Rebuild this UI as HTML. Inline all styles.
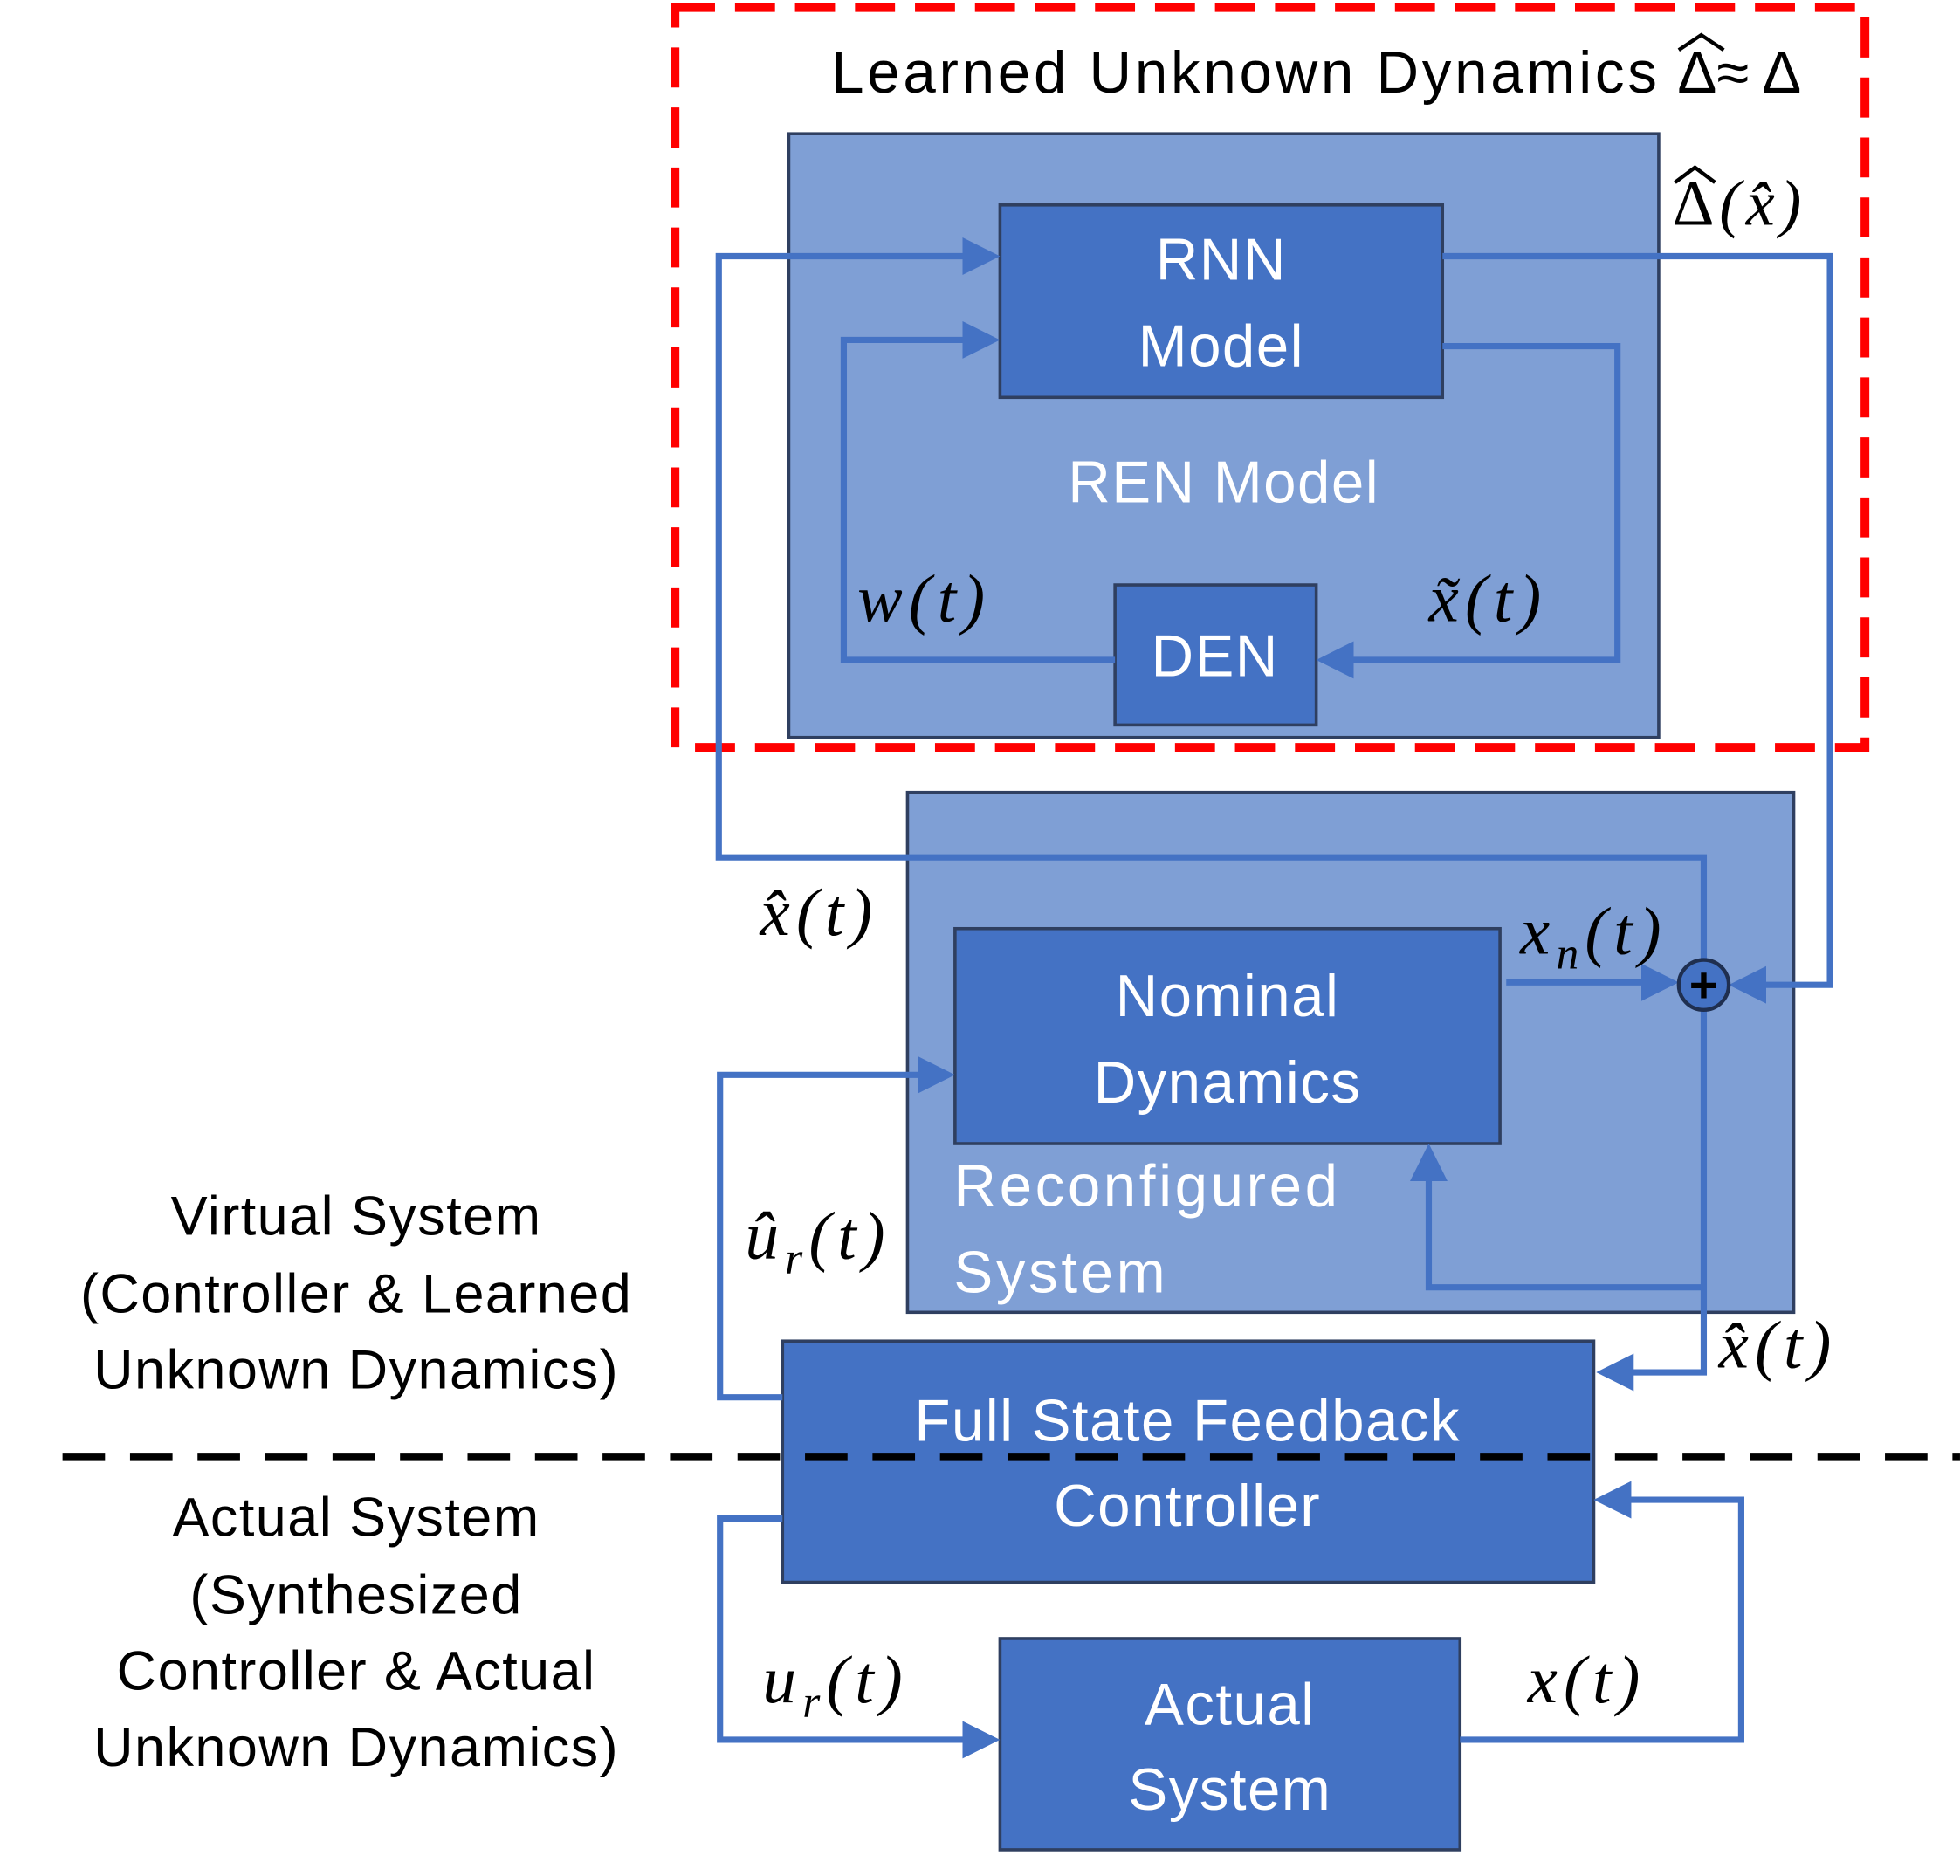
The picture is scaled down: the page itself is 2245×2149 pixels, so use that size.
<!DOCTYPE html>
<html><head><meta charset="utf-8"><style>
html,body{margin:0;padding:0;background:#fff;}
svg{display:block;}
.w{fill:#fff;font-family:"Liberation Sans",sans-serif;font-size:47px;text-anchor:middle;letter-spacing:1px;}
.k{fill:#000;font-family:"Liberation Sans",sans-serif;font-size:44px;text-anchor:middle;letter-spacing:1px;}
.m{fill:#000;font-family:"Liberation Serif",serif;font-style:italic;font-size:54px;letter-spacing:5px;}
.ln{fill:none;stroke:#4472c4;stroke-width:5;}
</style></head><body>
<svg width="2245" height="2149" viewBox="0 0 1568 1501" xmlns="http://www.w3.org/2000/svg">
<defs><marker id="a" markerWidth="6" markerHeight="6" refX="5" refY="3" orient="auto" markerUnits="strokeWidth"><path d="M0,0 L6,3 L0,6 z" fill="#4472c4"/></marker></defs>
<rect x="631" y="107" width="696" height="483" fill="#7f9fd5" stroke="#2f3f60" stroke-width="2.5"/>
<rect x="726" y="634" width="709" height="416" fill="#7f9fd5" stroke="#2f3f60" stroke-width="2.5"/>
<rect x="540" y="6" width="952" height="592" fill="none" stroke="#ff0000" stroke-width="7" stroke-dasharray="32,16"/>
<rect x="800" y="164" width="354" height="154" fill="#4472c4" stroke="#2f3f60" stroke-width="2.5"/>
<rect x="892" y="468" width="161" height="112" fill="#4472c4" stroke="#2f3f60" stroke-width="2.5"/>
<rect x="764" y="743" width="436" height="172" fill="#4472c4" stroke="#2f3f60" stroke-width="2.5"/>
<rect x="626" y="1073" width="649" height="193" fill="#4472c4" stroke="#2f3f60" stroke-width="2.5"/>
<rect x="800" y="1311" width="368" height="169" fill="#4472c4" stroke="#2f3f60" stroke-width="2.5"/>
<line x1="50" y1="1166" x2="1568" y2="1166" stroke="#000" stroke-width="6" stroke-dasharray="34,20"/>
<polyline class="ln" points="1363,768 1363,686 575,686 575,205 795,205" marker-end="url(#a)"/>
<polyline class="ln" points="1363,808 1363,1098 1282,1098" marker-end="url(#a)"/>
<polyline class="ln" points="1363,1030 1143,1030 1143,920" marker-end="url(#a)"/>
<polyline class="ln" points="1154,205 1464,205 1464,788 1388,788" marker-end="url(#a)"/>
<polyline class="ln" points="1154,277 1294,277 1294,528 1058,528" marker-end="url(#a)"/>
<polyline class="ln" points="892,528 675,528 675,272 795,272" marker-end="url(#a)"/>
<polyline class="ln" points="1205,786 1338,786" marker-end="url(#a)"/>
<polyline class="ln" points="626,1118 576,1118 576,860 759,860" marker-end="url(#a)"/>
<polyline class="ln" points="626,1215 576,1215 576,1392 795,1392" marker-end="url(#a)"/>
<polyline class="ln" points="1168,1392 1393,1392 1393,1200 1280,1200" marker-end="url(#a)"/>
<circle cx="1363" cy="788" r="20" fill="#4472c4" stroke="#1f2f50" stroke-width="3"/>
<text x="1363" y="802" font-size="40" font-weight="bold" text-anchor="middle" fill="#000" font-family="Liberation Sans">+</text>
<text class="w" x="977" y="224">RNN</text>
<text class="w" x="977" y="293">Model</text>
<text class="w" x="979" y="402">REN Model</text>
<text class="w" x="972" y="541">DEN</text>
<text class="w" x="982" y="813">Nominal</text>
<text class="w" x="982" y="882">Dynamics</text>
<text class="w" x="763" y="965" style="text-anchor:start;letter-spacing:2.5px">Reconfigured</text>
<text class="w" x="763" y="1034" style="text-anchor:start;letter-spacing:2.5px">System</text>
<text class="w" x="950" y="1153">Full State Feedback</text>
<text class="w" x="950" y="1221">Controller</text>
<text class="w" x="984" y="1380">Actual</text>
<text class="w" x="984" y="1448">System</text>
<text x="665" y="74" font-family="Liberation Sans" font-size="47" fill="#000" letter-spacing="2.6">Learned Unknown Dynamics</text>
<text x="1342" y="74" font-family="Liberation Sans" font-size="47" fill="#000">Δ≈ Δ</text>
<path d="M1343,40 L1361,28 L1379,40" fill="none" stroke="#000" stroke-width="3"/>
<text class="k" x="285" y="988">Virtual System</text>
<text class="k" x="285" y="1050">(Controller &amp; Learned</text>
<text class="k" x="285" y="1111">Unknown Dynamics)</text>
<text class="k" x="285" y="1229">Actual System</text>
<text class="k" x="285" y="1291">(Synthesized</text>
<text class="k" x="285" y="1352">Controller &amp; Actual</text>
<text class="k" x="285" y="1413">Unknown Dynamics)</text>
<text x="1338" y="180" font-family="Liberation Serif" font-size="52" fill="#000" letter-spacing="4">Δ<tspan font-style="italic">(x̂)</tspan></text>
<path d="M1340,146 L1356,134 L1372,146" fill="none" stroke="#000" stroke-width="3"/>
<text class="m" x="686" y="497">w(t)</text>
<text class="m" x="1143" y="497">x̃(t)</text>
<text class="m" x="608" y="748">x̂(t)</text>
<text class="m" x="1216" y="763">x<tspan font-size="36" dy="12">n</tspan><tspan dy="-12">(t)</tspan></text>
<text class="m" x="596" y="1007">û<tspan font-size="36" dy="12">r</tspan><tspan dy="-12">(t)</tspan></text>
<text class="m" x="1375" y="1094">x̂(t)</text>
<text class="m" x="610" y="1362">u<tspan font-size="36" dy="12">r</tspan><tspan dy="-12">(t)</tspan></text>
<text class="m" x="1222" y="1362">x(t)</text>
</svg>
</body></html>
